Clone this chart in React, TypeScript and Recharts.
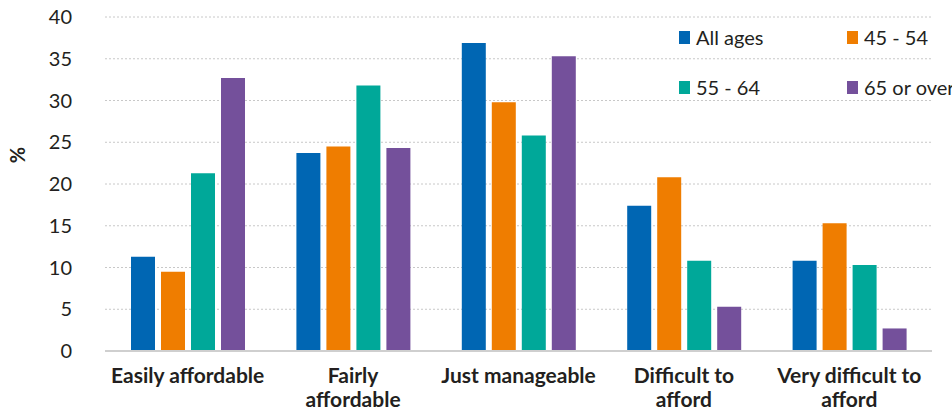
import React from "react";
import { BarChart, Bar, XAxis, YAxis, CartesianGrid, Legend } from "recharts";

const categories = [
  "Easily affordable",
  "Fairly\naffordable",
  "Just manageable",
  "Difficult to\nafford",
  "Very difficult to\nafford",
];
const allAges = [11.3, 23.7, 36.9, 17.4, 10.8];
const age45to54 = [9.5, 24.5, 29.8, 20.8, 15.3];
const age55to64 = [21.3, 31.8, 25.8, 10.8, 10.3];
const age65plus = [32.7, 24.3, 35.3, 5.3, 2.7];
const seriesNames = ["All ages", "45 - 54", "55 - 64", "65 or over"];
const seriesKeys = ["all", "a45", "a55", "a65"];
const seriesColors = ["#0066B3", "#EF7D00", "#00A899", "#74509B"];
const yTicks = [0, 5, 10, 15, 20, 25, 30, 35, 40];

const data = categories.map((c, i) => ({
  name: c,
  all: allAges[i],
  a45: age45to54[i],
  a55: age55to64[i],
  a65: age65plus[i],
}));

const FONT = "Lato, 'Open Sans', sans-serif";
const TEXT = "#231f20";

const XTick = (props: any) => {
  const { x, y, payload } = props;
  const lines = String(payload.value).split("\n");
  return (
    <text x={x} y={y} textAnchor="middle" fill={TEXT} fontFamily={FONT} fontWeight={700} fontSize={21}>
      {lines.map((l, i) => (
        <tspan key={i} x={x} dy={i === 0 ? 32 : 24}>
          {l}
        </tspan>
      ))}
    </text>
  );
};

const YTick = (props: any) => {
  const { x, y, payload } = props;
  return (
    <text x={x} y={y} dy={7} textAnchor="end" fill={TEXT} fontFamily={FONT} fontSize={20}>
      {payload.value}
    </text>
  );
};

const LegendContent = () => (
  <div
    style={{
      display: "grid",
      gridTemplateColumns: "168px 168px",
      rowGap: 0,
      fontFamily: FONT,
      fontSize: 20,
      color: TEXT,
    }}
  >
    {seriesNames.map((n, i) => (
      <div key={n} style={{ display: "flex", alignItems: "center", height: 50, whiteSpace: "nowrap" }}>
        <span
          style={{
            display: "inline-block",
            width: 11,
            height: 13,
            background: seriesColors[i],
            marginRight: 6,
          }}
        />
        <span>{n}</span>
      </div>
    ))}
  </div>
);

const YLabel = () => (
  <text
    x={17}
    y={155}
    transform="rotate(-90 17 155)"
    textAnchor="middle"
    fill={TEXT}
    fontFamily={FONT}
    fontWeight={700}
    fontSize={20}
    dominantBaseline="central"
  >
    %
  </text>
);

export default function App() {
  return (
    <div style={{ position: "absolute", left: 0, top: 0, width: 952, height: 413, overflow: "hidden", background: "#fff" }}>
      <BarChart
        width={952}
        height={413}
        data={data}
        margin={{ top: 17, right: 20, bottom: 2, left: 0 }}
        barGap={6}
        barCategoryGap="15%"
      >
        <CartesianGrid vertical={false} stroke="#c8c8c8" strokeDasharray="2 2" />
        <XAxis
          dataKey="name"
          interval={0}
          height={60}
          tickLine={false}
          tickSize={0}
          tickMargin={0}
          axisLine={{ stroke: "#cfcfcf", strokeWidth: 2 }}
          tick={<XTick />}
        />
        <YAxis
          width={105}
          domain={[0, 40]}
          ticks={yTicks}
          interval={0}
          axisLine={false}
          tickLine={false}
          tickSize={0}
          tickMargin={33}
          tick={<YTick />}
          label={<YLabel />}
        />
        <Legend
          layout="horizontal"
          verticalAlign="middle"
          align="center"
          content={<LegendContent />}
          wrapperStyle={{ position: "absolute", left: 679, top: 12, width: 340, height: 100 }}
        />
        {seriesKeys.map((k, i) => (
          <Bar
            key={k}
            dataKey={k}
            name={seriesNames[i]}
            fill={seriesColors[i]}
            barSize={24}
            isAnimationActive={false}
          />
        ))}
      </BarChart>
    </div>
  );
}
